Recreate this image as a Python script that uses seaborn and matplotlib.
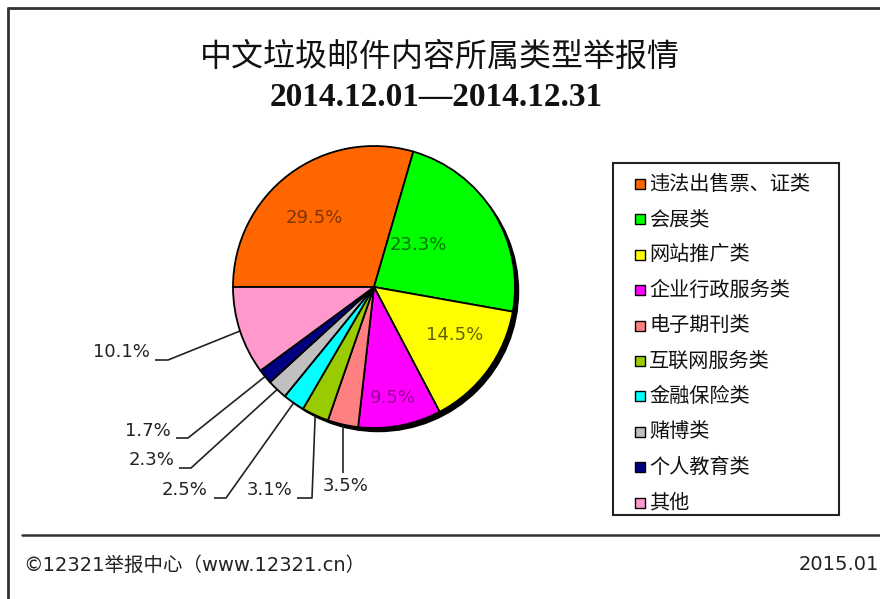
import numpy as np
import matplotlib
matplotlib.use("Agg")
import matplotlib.pyplot as plt
from matplotlib.patches import Rectangle, Circle
from matplotlib.lines import Line2D
import seaborn as sns

# ---------------- data ----------------
categories = ["违法出售票、证类", "会展类", "网站推广类", "企业行政服务类", "电子期刊类",
              "互联网服务类", "金融保险类", "赌博类", "个人教育类", "其他"]
shares = [29.5, 23.3, 14.5, 9.5, 3.5, 3.1, 2.5, 2.3, 1.7, 10.1]
pct_labels = ["29.5%", "23.3%", "14.5%", "9.5%", "3.5%", "3.1%", "2.5%", "2.3%", "1.7%", "10.1%"]
title = "中文垃圾邮件内容所属类型举报情"
subtitle = "2014.12.01—2014.12.31"
footer_left = "©12321举报中心（www.12321.cn）"
footer_right = "2015.01"

# ---------------- style ----------------
colors = ["#FF6600", "#00FF00", "#FFFF00", "#FF00FF", "#FF8080",
          "#99CC00", "#00FFFF", "#C0C0C0", "#000080", "#FF99CC"]

sns.set_theme(style="white")
plt.rcParams["font.family"] = ["Noto Sans CJK SC", "DejaVu Sans"]

W, H = 880, 599
CX, CY, R = 374, 287, 141  # pie centre and radius in pixels

fig = plt.figure(figsize=(W / 100, H / 100), dpi=100)
fig.patch.set_facecolor("white")
ax = fig.add_axes([0, 0, 1, 1])


def px(x, y):
    return ((x - CX) / R, (CY - y) / R)


def fx(x, y):
    return (x / W, 1 - y / H)


# shadow
ax.add_patch(Circle((0.03, -0.03), 1.0, facecolor="black", edgecolor="none", zorder=0))

wedges, _ = ax.pie(shares, colors=colors, startangle=180, counterclock=False,
                   radius=1, center=(0, 0),
                   wedgeprops=dict(edgecolor="black", linewidth=1.3))
for w in wedges:
    w.set_zorder(2)

ax.set_xlim(-CX / R, (W - CX) / R)
ax.set_ylim(-(H - CY) / R, CY / R)
ax.set_aspect("auto")
ax.axis("off")

# inside labels (pixel positions)
inside_pos = {0: (314, 218), 1: (418, 245), 2: (455, 335), 3: (393, 398)}
inside_dark = {0: 0.5, 1: 0.45, 2: 0.38, 3: 0.6}
for i, (x, y) in inside_pos.items():
    c = np.array(matplotlib.colors.to_rgb(colors[i])) * inside_dark[i]
    ax.text(*px(x, y), pct_labels[i], ha="center", va="center", fontsize=13,
            color=c, family=["DejaVu Sans"], zorder=5)

# outside labels: text anchor, alignment, elbow, underline end
outside = {
    9: dict(text=(150, 352), ha="right", elbow=(168, 360), end=(155, 360)),
    8: dict(text=(171, 431), ha="right", elbow=(188, 438), end=(176, 438)),
    7: dict(text=(174, 460), ha="right", elbow=(191, 468), end=(179, 468)),
    6: dict(text=(207, 490), ha="right", elbow=(226, 498), end=(214, 498)),
    5: dict(text=(292, 490), ha="right", elbow=(312, 498), end=(297, 498)),
    4: dict(text=(323, 486), ha="left", elbow=None, end=None),
}
for i, o in outside.items():
    w = wedges[i]
    th = np.deg2rad((w.theta1 + w.theta2) / 2)
    ex, ey = np.cos(th), np.sin(th)
    if o["elbow"] is not None:
        pts = [(ex, ey), px(*o["elbow"]), px(*o["end"])]
    else:
        pts = [(ex, ey), (ex, px(0, 473)[1])]
    xs, ys = zip(*pts)
    ax.plot(xs, ys, color="#222222", lw=1.2, zorder=1, solid_capstyle="butt")
    ax.text(*px(*o["text"]), pct_labels[i], ha=o["ha"], va="center", fontsize=13,
            color="#222222", family=["DejaVu Sans"])

# titles
fig.text(*fx(440, 57), title, ha="center", va="center", fontsize=23, color="#111111",
         family=["Noto Sans CJK SC", "DejaVu Sans"], weight="medium")
fig.text(*fx(436, 97), subtitle, ha="center", va="center", fontsize=24, color="#111111",
         family=["Liberation Serif", "DejaVu Serif"], weight="bold")

# legend (manual)
fig.patches.append(Rectangle(fx(613, 515), (839 - 613) / W, (515 - 163) / H,
                             transform=fig.transFigure, facecolor="white",
                             edgecolor="#222222", linewidth=1.5))
for k, (cat, col) in enumerate(zip(categories, colors)):
    y = 184 + k * 35.4
    fig.patches.append(Rectangle(fx(635, y + 5), 10 / W, 10 / H, transform=fig.transFigure,
                                 facecolor=col, edgecolor="black", linewidth=1.0))
    fig.text(*fx(649, y), cat, ha="left", va="center", fontsize=14.5, color="#111111",
             family=["Noto Sans CJK SC", "DejaVu Sans"])

# frame and footer line
fig.lines.append(Line2D([8 / W, 1], [1 - 8 / H, 1 - 8 / H], transform=fig.transFigure,
                        color="#333333", lw=2))
fig.lines.append(Line2D([8 / W, 8 / W], [0, 1 - 8 / H], transform=fig.transFigure,
                        color="#333333", lw=2))
fig.lines.append(Line2D([22 / W, 1], [1 - 535 / H, 1 - 535 / H], transform=fig.transFigure,
                        color="#333333", lw=1.8))

fig.text(*fx(23, 565), footer_left, ha="left", va="center", fontsize=14, color="#222222",
         family=["DejaVu Sans", "Noto Sans CJK SC"])
fig.text(*fx(879, 565), footer_right, ha="right", va="center", fontsize=14, color="#222222",
         family=["DejaVu Sans"])

fig.savefig("out.png", dpi=100, facecolor="white")
